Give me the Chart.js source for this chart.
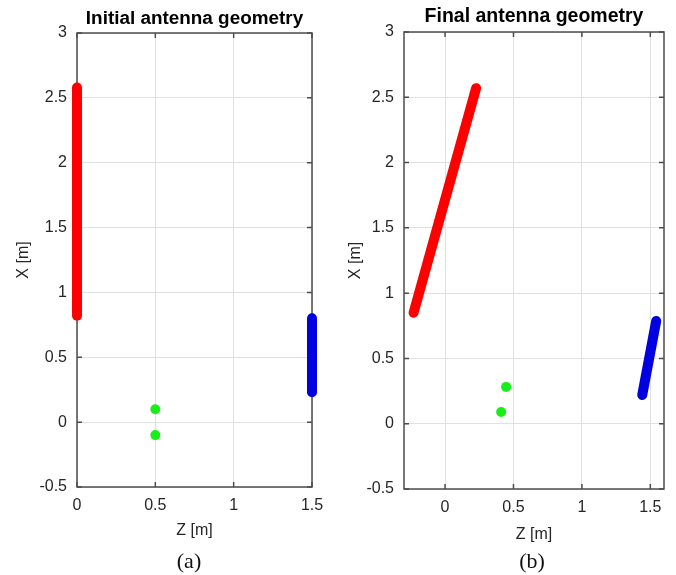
<!DOCTYPE html>
<html>
<head>
<meta charset="utf-8">
<script src="https://cdn.jsdelivr.net/npm/chart.js@4.4.1/dist/chart.umd.min.js"></script>
<style>
  html, body { margin: 0; padding: 0; background: #fff; }
  body { width: 676px; height: 575px; position: relative; overflow: hidden; }
  canvas { position: absolute; top: 0; }
  #c1 { left: 0; }
  #c2 { left: 338px; }
  .cap { position: absolute; top: 548px; font-family: "Liberation Serif", "Times New Roman", serif; font-size: 22px; color: #111; transform: translateX(-50%); }
</style>
</head>
<body>
<canvas id="c1" width="338" height="550"></canvas>
<canvas id="c2" width="338" height="550"></canvas>
<div class="cap" style="left:189px">(a)</div>
<div class="cap" style="left:532px">(b)</div>
<script>
// ---- data (Z = horizontal, X = vertical), metres ----
const yTicks = [-0.5, 0, 0.5, 1, 1.5, 2, 2.5, 3];
const leftZTicks = [0, 0.5, 1, 1.5];
const rightZTicks = [0, 0.5, 1, 1.5];

const initRedZ = [0, 0];
const initRedX = [0.82, 2.58];
const initBlueZ = [1.5, 1.5];
const initBlueX = [0.23, 0.80];
const initGreenZ = [0.5, 0.5];
const initGreenX = [0.10, -0.10];

const finalRedZ = [-0.23, 0.227];
const finalRedX = [0.85, 2.57];
const finalBlueZ = [1.441, 1.543];
const finalBlueX = [0.22, 0.787];
const finalGreenZ = [0.446, 0.41];
const finalGreenX = [0.282, 0.09];

const pts = (zs, xs) => zs.map((z, i) => ({ x: z, y: xs[i] }));

const FONT = '"Liberation Sans", Arial, sans-serif';
const RED = '#ff0000', BLUE = '#0000e0', GREEN = '#18ee18';
const TXT = '#262626';

const boxPlugin = {
  id: 'matlabBox',
  beforeDatasetsDraw(chart) {
    const { ctx, chartArea: a } = chart;
    const xs = chart.scales.x, ys = chart.scales.y;
    const L = 5;
    ctx.save();
    ctx.strokeStyle = '#4d4d4d';
    ctx.lineWidth = 1.5;
    ctx.beginPath();
    xs.ticks.forEach(t => {
      const p = xs.getPixelForValue(t.value);
      ctx.moveTo(p, a.bottom); ctx.lineTo(p, a.bottom - L);
      ctx.moveTo(p, a.top); ctx.lineTo(p, a.top + L);
    });
    ys.ticks.forEach(t => {
      const p = ys.getPixelForValue(t.value);
      ctx.moveTo(a.left, p); ctx.lineTo(a.left + L, p);
      ctx.moveTo(a.right, p); ctx.lineTo(a.right - L, p);
    });
    ctx.stroke();
    ctx.strokeRect(a.left, a.top, a.right - a.left, a.bottom - a.top);
    ctx.restore();
  }
};

function makeChart(id, cfg) {
  const lineDs = (data, color) => ({
    data, showLine: true, borderColor: color, backgroundColor: color,
    borderWidth: 10, borderCapStyle: 'round', pointRadius: 0, clip: false
  });
  return new Chart(document.getElementById(id), {
    type: 'scatter',
    data: {
      datasets: [
        lineDs(cfg.red, RED),
        lineDs(cfg.blue, BLUE),
        { data: cfg.green, showLine: false, pointRadius: 5, pointBorderWidth: 0,
          backgroundColor: GREEN, borderColor: GREEN, clip: false }
      ]
    },
    options: {
      responsive: false,
      animation: false,
      devicePixelRatio: 1,
      layout: { padding: { left: 0, top: 0, right: cfg.padRight, bottom: 0 } },
      plugins: {
        legend: { display: false },
        tooltip: { enabled: false },
        title: {
          display: true, text: cfg.title, fullSize: false, color: '#000',
          font: { family: FONT, size: cfg.titleSize, weight: 'bold', lineHeight: 1 },
          padding: cfg.titlePad
        }
      },
      scales: {
        x: {
          type: 'linear', min: cfg.zMin, max: cfg.zMax,
          afterBuildTicks: s => { s.ticks = cfg.zTicks.map(v => ({ value: v })); },
          afterFit: s => { s.height = cfg.xAxisH; },
          grid: { color: '#e0e0e0', lineWidth: 1, drawTicks: false },
          border: { display: false },
          ticks: { color: TXT, font: { family: FONT, size: 16 }, padding: cfg.xTickPad,
                   maxRotation: 0, callback: v => String(v) },
          title: { display: true, text: 'Z [m]', color: TXT,
                   font: { family: FONT, size: 16 }, padding: { top: 0, bottom: cfg.xTitlePad } }
        },
        y: {
          type: 'linear', min: -0.5, max: 3,
          afterBuildTicks: s => { s.ticks = yTicks.map(v => ({ value: v })); },
          afterFit: s => { s.width = cfg.yAxisW; },
          grid: { color: '#e0e0e0', lineWidth: 1, drawTicks: false },
          border: { display: false },
          ticks: { color: TXT, font: { family: FONT, size: 16 }, padding: 10,
                   callback: v => String(v) },
          title: { display: true, text: 'X [m]', color: TXT,
                   font: { family: FONT, size: 16 }, padding: { top: cfg.yTitlePad, bottom: 0 } }
        }
      }
    },
    plugins: [boxPlugin]
  });
}

makeChart('c1', {
  title: 'Initial antenna geometry', titleSize: 18.9, titlePad: { top: 9, bottom: 5.1 },
  red: pts(initRedZ, initRedX), blue: pts(initBlueZ, initBlueX), green: pts(initGreenZ, initGreenX),
  zMin: 0, zMax: 1.5, zTicks: leftZTicks,
  padRight: 26, yAxisW: 77, xAxisH: 63, xTickPad: 9.4, xTitlePad: 9.4, yTitlePad: 14.4
});

makeChart('c2', {
  title: 'Final antenna geometry', titleSize: 19.5, titlePad: { top: 6.75, bottom: 5.75 },
  red: pts(finalRedZ, finalRedX), blue: pts(finalBlueZ, finalBlueX), green: pts(finalGreenZ, finalGreenX),
  zMin: -0.3, zMax: 1.6, zTicks: rightZTicks,
  padRight: 12, yAxisW: 66, xAxisH: 61, xTickPad: 9.4, xTitlePad: 5.9, yTitlePad: 8.4
});
</script>
</body>
</html>
